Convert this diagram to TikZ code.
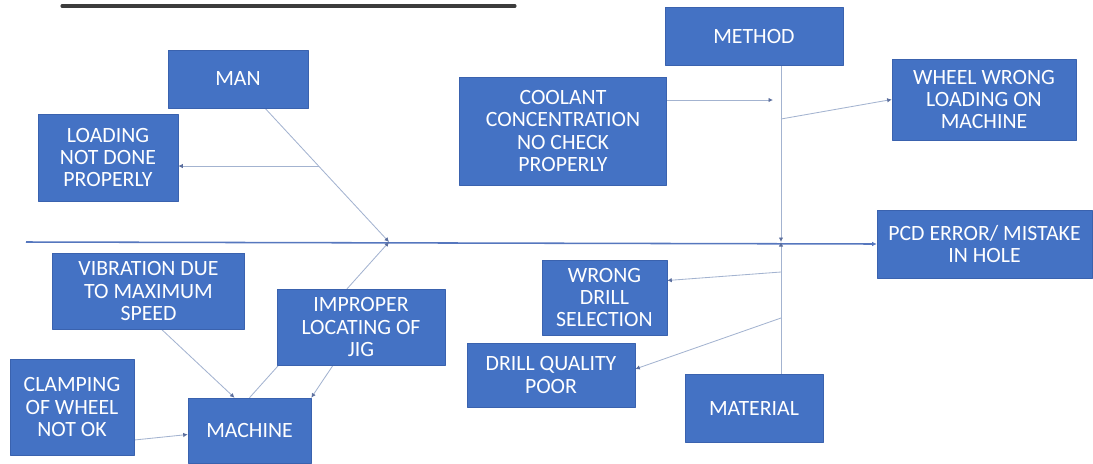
\documentclass[tikz,border=0pt]{standalone}
\usepackage{fontspec}
\setmainfont{Carlito}
\usetikzlibrary{arrows, arrows.meta, calc, backgrounds}
\newcommand{\pxu}{0.025cm}
\definecolor{boxblue}{HTML}{4472C4}
\definecolor{boxedge}{HTML}{3A62AE}
\definecolor{spineblue}{HTML}{5677BE}
\definecolor{bonegrey}{HTML}{A3B3D0}
\definecolor{tipgrey}{HTML}{5C6F9E}
\definecolor{titlegrey}{HTML}{3C3C3C}

\begin{document}
\begin{tikzpicture}[line cap=round,line join=round,>={Latex[length=3.2pt,width=3.2pt]},x=0.025cm,y=-0.025cm,
  causebox/.style 2 args={draw=boxedge,fill=boxblue,text=white,align=center,inner sep=0pt,
    minimum width=#1*\pxu,minimum height=#2*\pxu,font=\fontsize{15.5}{15.8}\selectfont},
  bone/.style={bonegrey,line width=0.6pt,-{Latex[length=3.2pt,width=3.2pt,color=tipgrey]}},
  spine/.style={spineblue,line width=1.1pt}]
\useasboundingbox (0,0) rectangle (1093,463);

\draw[titlegrey,line width=2.2pt] (62,6) -- (515,6);

\node[causebox={140}{58}] (man) at (238,79) {MAN};
\node[causebox={140}{87}] (loading) at (108,157.5) {LOADING\\NOT DONE\\PROPERLY};
\node[causebox={207}{108}] (coolant) at (563,131) {COOLANT\\CONCENTRATION\\NO CHECK\\PROPERLY};
\node[causebox={178}{58}] (method) at (754,36) {METHOD};
\node[causebox={184}{81}] (wheel) at (984,99.5) {WHEEL WRONG\\LOADING ON\\MACHINE};
\node[causebox={215}{68}] (pcd) at (984.5,244) {PCD ERROR/ MISTAKE\\IN HOLE};
\node[causebox={125}{75}] (wrongdrill) at (604.5,297.5) {WRONG\\DRILL\\SELECTION};
\node[causebox={168}{64}] (quality) at (551,375) {DRILL QUALITY\\POOR};
\node[causebox={138}{68}] (material) at (754,408) {MATERIAL};
\node[causebox={192}{76}] (vibration) at (148.5,291) {VIBRATION DUE\\TO MAXIMUM\\SPEED};
\node[causebox={168}{76}] (improper) at (361,327) {IMPROPER\\LOCATING OF\\JIG};
\node[causebox={124}{96}] (clamping) at (72,407) {CLAMPING\\OF WHEEL\\NOT OK};
\node[causebox={123}{65}] (machine) at (249.5,430.5) {MACHINE};

\coordinate (tail) at (26,242);
\coordinate (manjoint) at (389,242);
\coordinate (methjoint) at (781,242);
\coordinate (manmid) at ($(man)!0.534!(manjoint)$);
\coordinate (coolanttip) at (773,100);
\coordinate (wheelfoot) at (781,119);
\coordinate (drillfoot) at (781,272);
\coordinate (qualityfoot) at (781,318);

\begin{pgfonlayer}{background}
\draw[spine,->] (tail) -- (pcd.west);

\draw[bone] (man) -- (manjoint);
\draw[bone] (machine.north) -- (manjoint);
\draw[bone] (manmid) -- (manmid -| loading.east);
\draw[bone] ($(vibration.south)+(13,0)$) -- ($(machine.north)+(-15,0)$);
\draw[bone] ($(improper.south)+(-28,0)$) -- (machine.north east);
\draw[bone] ($(clamping.east)+(0,33)$) -- ($(machine.west)+(0,4)$);

\draw[bone] (methjoint |- method.south) -- (methjoint);
\draw[bone] (methjoint |- material.north) -- (methjoint);
\draw[bone] ($(coolant.east)+(0,-31)$) -- (coolanttip);
\draw[bone] (wheelfoot) -- (wheel.west);
\draw[bone] (drillfoot) -- ($(wrongdrill.east)+(0,-17)$);
\draw[bone] (qualityfoot) -- ($(quality.east)+(0,-6)$);
\end{pgfonlayer}
\end{tikzpicture}
\end{document}
